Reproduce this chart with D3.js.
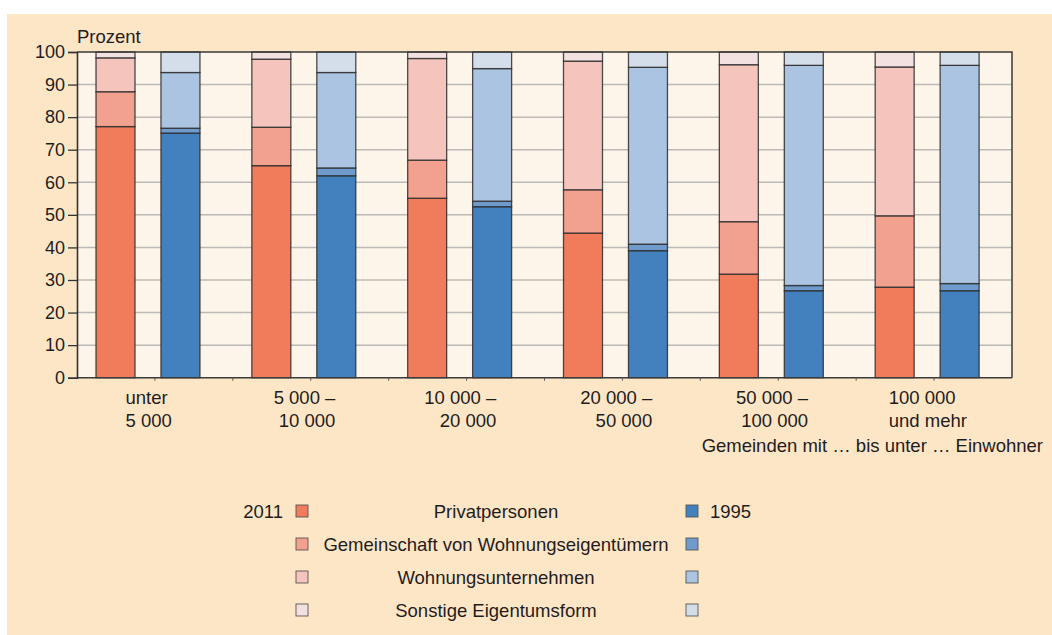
<!DOCTYPE html>
<html>
<head>
<meta charset="utf-8">
<script src="https://cdn.jsdelivr.net/npm/d3@7"></script>
<style>
  body { margin: 0; background: #fff; }
  svg { display: block; font-family: "Liberation Sans", Arial, sans-serif; }
</style>
</head>
<body>
<svg id="chart" width="1052" height="635"></svg>
<script>
// Eigentumsform nach Gemeindegroesse, 2011 vs 1995 (Prozent)

var categories = [
  ['unter', '5 000'],
  ['5 000 –', '10 000'],
  ['10 000 –', '20 000'],
  ['20 000 –', '50 000'],
  ['50 000 –', '100 000'],
  ['100 000', 'und mehr']
]
var years = ['2011', '1995']
var owners = ['Privatpersonen', 'Gemeinschaft von Wohnungseigentümern', 'Wohnungsunternehmen', 'Sonstige Eigentumsform']
var yTicks = [0, 10, 20, 30, 40, 50, 60, 70, 80, 90, 100]

// 2011
var privat2011 = [77.1, 65.1, 55.1, 44.4, 31.8, 27.8]
var gemeinschaft2011 = [10.7, 11.8, 11.7, 13.3, 16.1, 21.9]
var unternehmen2011 = [10.4, 20.9, 31.2, 39.5, 48.2, 45.7]
var sonstige2011 = [1.8, 2.2, 2.0, 2.8, 3.9, 4.6]

// 1995
var privat1995 = [75.1, 62.0, 52.5, 39.0, 26.7, 26.7]
var gemeinschaft1995 = [1.5, 2.4, 1.7, 2.0, 1.6, 2.2]
var unternehmen1995 = [17.1, 29.3, 40.7, 54.3, 67.6, 67.0]
var sonstige1995 = [6.3, 6.3, 5.1, 4.7, 4.1, 4.1]

var colors2011 = ['#f07c5c', '#f2a18f', '#f5c4bc', '#f3e0e1']
var colors1995 = ['#4380be', '#6e9bcc', '#abc4e2', '#d4deea']

var width = 1052
var height = 635
var margin = { top: 52, right: 40, bottom: 257, left: 77 }
var textColor = '#1f1c1d'
var fontSize = 18.5

var svg = d3.select('#chart')

// background panel
svg.append('rect')
  .attr('x', 7).attr('y', 14)
  .attr('width', width - 7).attr('height', height - 14)
  .attr('fill', '#fde6c5')

var x = d3.scaleBand()
  .domain(d3.range(categories.length))
  .range([margin.left, width - margin.right])

var xYear = d3.scaleBand()
  .domain(years)
  .range([x.bandwidth() * 0.122, x.bandwidth() * 0.789])
  .paddingInner(0.4)

var y = d3.scaleLinear()
  .domain([0, 100])
  .range([height - margin.bottom - 0.3, margin.top])

var plot = svg.append('g')

plot.append('rect')
  .attr('x', x.range()[0]).attr('y', y(100))
  .attr('width', x.range()[1] - x.range()[0])
  .attr('height', y(0) - y(100))
  .attr('fill', '#fef5ea')

// grid
plot.selectAll('.grid')
  .data(yTicks.slice(1, -1))
  .enter().append('line')
  .attr('class', 'grid')
  .attr('x1', x.range()[0]).attr('x2', x.range()[1])
  .attr('y1', function (d) { return y(d) }).attr('y2', function (d) { return y(d) })
  .attr('stroke', '#bcbab6')
  .attr('stroke-width', 1.5)

function rows (series) {
  return categories.map(function (c, i) {
    var r = { i: i }
    owners.forEach(function (o, k) { r[o] = series[k][i] })
    return r
  })
}

var data = {
  '2011': rows([privat2011, gemeinschaft2011, unternehmen2011, sonstige2011]),
  '1995': rows([privat1995, gemeinschaft1995, unternehmen1995, sonstige1995])
}
var colors = { '2011': colors2011, '1995': colors1995 }

var stack = d3.stack().keys(owners)

years.forEach(function (year) {
  var layers = stack(data[year])
  plot.append('g')
    .selectAll('g')
    .data(layers)
    .enter().append('g')
    .attr('fill', function (d, k) { return colors[year][k] })
    .selectAll('rect')
    .data(function (d) { return d })
    .enter().append('rect')
    .attr('x', function (d) { return x(d.data.i) + xYear(year) })
    .attr('width', xYear.bandwidth())
    .attr('y', function (d) { return y(d[1]) })
    .attr('height', function (d) { return y(d[0]) - y(d[1]) })
    .attr('stroke', '#2b2b2b')
    .attr('stroke-opacity', 0.85)
    .attr('stroke-width', 1.3)
})

// frame
plot.append('path')
  .attr('d', 'M' + x.range()[0] + ',' + y(100) + 'H' + x.range()[1] + 'V' + y(0))
  .attr('fill', 'none')
  .attr('stroke', '#3a3a3a')
  .attr('stroke-width', 1.5)

// y axis
var yAxis = svg.append('g')
  .attr('transform', 'translate(' + margin.left + ',0)')
  .call(d3.axisLeft(y).tickValues(yTicks).tickSize(9).tickPadding(3))

yAxis.select('.domain').attr('stroke', '#333').attr('stroke-width', 1.6)
yAxis.selectAll('.tick line').attr('stroke', '#333').attr('stroke-width', 1.3)
yAxis.selectAll('.tick text')
  .attr('font-size', 18)
  .attr('fill', textColor)
  .attr('font-family', '"Liberation Sans", Arial, sans-serif')

// x axis line and half-group ticks
var xTickPos = []
categories.forEach(function (c, i) {
  xTickPos.push(x(i))
  xTickPos.push(x(i) + x.bandwidth() / 2)
})

svg.append('line')
  .attr('x1', x.range()[0]).attr('x2', x.range()[1])
  .attr('y1', y(0)).attr('y2', y(0))
  .attr('stroke', '#3a3a3a')
  .attr('stroke-width', 1.6)

svg.selectAll('.xtick')
  .data(xTickPos.slice(1))
  .enter().append('line')
  .attr('class', 'xtick')
  .attr('x1', function (d) { return d }).attr('x2', function (d) { return d })
  .attr('y1', y(0)).attr('y2', y(0) + 3)
  .attr('stroke', '#555')
  .attr('stroke-width', 1)

svg.append('text')
  .attr('x', margin.left)
  .attr('y', 43)
  .attr('font-size', fontSize)
  .attr('fill', textColor)
  .text('Prozent')

// category labels
var catLabels = svg.selectAll('.cat')
  .data(categories)
  .enter().append('g')
  .attr('class', 'cat')

catLabels.each(function (lines, i) {
  var g = d3.select(this)
  var texts = g.selectAll('text')
    .data(lines)
    .enter().append('text')
    .attr('font-size', fontSize)
    .attr('fill', textColor)
    .attr('y', function (d, k) { return 404 + k * 22.5 })
    .text(function (d) { return d })
  var maxW = d3.max(texts.nodes(), function (n) { return n.getComputedTextLength() })
  var cx = x(i) + x.bandwidth() * 0.46
  var rightAlign = lines[0].indexOf('–') >= 0
  if (rightAlign) {
    texts.attr('text-anchor', 'end').attr('x', cx + maxW / 2)
  } else {
    texts.attr('text-anchor', 'start').attr('x', cx - maxW / 2)
  }
})

svg.append('text')
  .attr('x', 1043)
  .attr('y', 452)
  .attr('text-anchor', 'end')
  .attr('font-size', fontSize)
  .attr('fill', textColor)
  .text('Gemeinden mit … bis unter … Einwohner')

// legend
var ly = d3.scalePoint().domain(owners).range([511, 610])
var legend = svg.append('g')

legend.selectAll('.l2011')
  .data(owners)
  .enter().append('rect')
  .attr('x', 296).attr('y', function (d) { return ly(d) - 6 })
  .attr('width', 12).attr('height', 12)
  .attr('fill', function (d, k) { return colors2011[k] })
  .attr('stroke', '#555').attr('stroke-width', 0.9)

legend.selectAll('.l1995')
  .data(owners)
  .enter().append('rect')
  .attr('x', 686).attr('y', function (d) { return ly(d) - 6 })
  .attr('width', 12).attr('height', 12)
  .attr('fill', function (d, k) { return colors1995[k] })
  .attr('stroke', '#555').attr('stroke-width', 0.9)

legend.selectAll('.ltext')
  .data(owners)
  .enter().append('text')
  .attr('x', 496).attr('y', function (d) { return ly(d) + 6.5 })
  .attr('text-anchor', 'middle')
  .attr('font-size', fontSize)
  .attr('fill', textColor)
  .text(function (d) { return d })

legend.append('text')
  .attr('x', 283).attr('y', ly(owners[0]) + 6.5)
  .attr('text-anchor', 'end')
  .attr('font-size', fontSize)
  .attr('fill', textColor)
  .text(years[0])

legend.append('text')
  .attr('x', 710).attr('y', ly(owners[0]) + 6.5)
  .attr('font-size', fontSize)
  .attr('fill', textColor)
  .text(years[1])
</script>
</body>
</html>
